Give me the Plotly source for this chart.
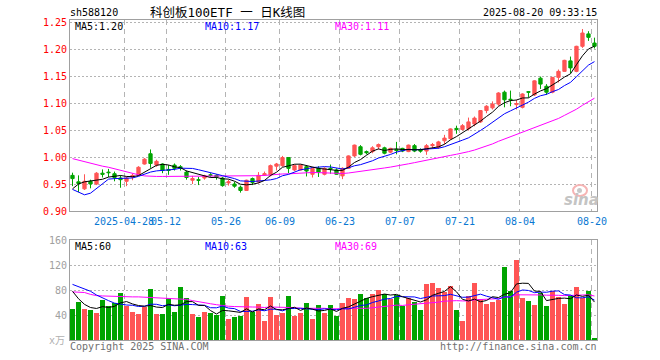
import plotly.graph_objects as go
import pandas as pd

# ---------------- data ----------------
dates = ["04-15","04-16","04-17","04-18","04-21","04-22","04-23","04-24","04-25","04-28",
         "04-29","04-30","05-06","05-07","05-08","05-09","05-12","05-13","05-14","05-15",
         "05-16","05-19","05-20","05-21","05-22","05-23","05-26","05-27","05-28","05-29",
         "05-30","06-03","06-04","06-05","06-06","06-09","06-10","06-11","06-12","06-13",
         "06-16","06-17","06-18","06-19","06-20","06-23","06-24","06-25","06-26","06-27",
         "06-30","07-01","07-02","07-03","07-04","07-07","07-08","07-09","07-10","07-11",
         "07-14","07-15","07-16","07-17","07-18","07-21","07-22","07-23","07-24","07-25",
         "07-28","07-29","07-30","07-31","08-01","08-04","08-05","08-06","08-07","08-08",
         "08-11","08-12","08-13","08-14","08-15","08-18","08-19","08-20"]

open_ = [0.966,0.954,0.941,0.955,0.950,0.970,0.972,0.969,0.961,0.955,
         0.963,0.967,0.987,1.006,0.985,0.987,0.977,0.985,0.982,0.972,
         0.957,0.958,0.961,0.967,0.966,0.961,0.952,0.950,0.944,0.938,
         0.960,0.954,0.967,0.967,0.983,0.984,0.999,0.976,0.976,0.982,
         0.968,0.979,0.968,0.979,0.976,0.965,0.979,1.002,1.019,1.010,
         1.010,1.019,1.017,1.009,1.014,1.016,1.010,1.021,1.013,1.011,
         1.021,1.018,1.030,1.034,1.053,1.051,1.0525,1.061,1.065,1.086,
         1.091,1.098,1.120,1.107,1.097,1.092,1.121,1.115,1.146,1.131,
         1.120,1.1475,1.1586,1.178,1.1586,1.205,1.228,1.211]
high = [0.971,0.966,0.968,0.958,0.972,0.977,0.978,0.973,0.966,0.964,
        0.969,0.983,0.998,1.014,0.995,0.988,0.985,0.988,0.985,0.975,
        0.965,0.963,0.967,0.970,0.968,0.963,0.958,0.954,0.947,0.958,
        0.962,0.972,0.973,0.986,0.989,1.002,0.999,0.986,0.986,0.985,
        0.979,0.983,0.981,0.986,0.979,0.981,1.003,1.023,1.022,1.012,
        1.020,1.025,1.019,1.017,1.028,1.017,1.023,1.024,1.016,1.024,
        1.026,1.030,1.041,1.053,1.058,1.061,1.073,1.075,1.087,1.096,
        1.103,1.120,1.123,1.123,1.106,1.118,1.122,1.142,1.149,1.135,
        1.148,1.162,1.180,1.186,1.206,1.237,1.233,1.221]
low = [0.946,0.935,0.939,0.942,0.948,0.962,0.963,0.955,0.943,0.946,
       0.957,0.965,0.986,0.980,0.982,0.970,0.967,0.975,0.975,0.958,
       0.950,0.948,0.958,0.962,0.958,0.945,0.947,0.943,0.934,0.937,
       0.948,0.951,0.965,0.964,0.975,0.982,0.970,0.974,0.975,0.964,
       0.962,0.963,0.966,0.969,0.967,0.959,0.978,1.000,1.003,1.005,
       1.007,1.014,1.005,1.007,1.005,1.009,1.009,1.009,1.008,1.004,
       1.017,1.015,1.0235,1.032,1.043,1.049,1.049,1.057,1.063,1.081,
       1.088,1.095,1.092,1.094,1.088,1.090,1.110,1.113,1.126,1.115,
       1.118,1.138,1.158,1.155,1.157,1.202,1.215,1.201]
close = [0.960,0.951,0.955,0.950,0.970,0.968,0.971,0.962,0.958,0.961,
         0.966,0.981,0.996,0.988,0.992,0.975,0.975,0.979,0.980,0.962,
         0.960,0.957,0.965,0.966,0.963,0.947,0.954,0.946,0.938,0.957,
         0.953,0.966,0.969,0.984,0.987,0.999,0.979,0.984,0.985,0.974,
         0.979,0.972,0.979,0.978,0.968,0.979,1.002,1.022,1.005,1.008,
         1.017,1.023,1.007,1.016,1.012,1.011,1.022,1.011,1.011,1.021,
         1.023,1.028,1.035,1.052,1.051,1.058,1.065,1.072,1.086,1.094,
         1.098,1.1185,1.106,1.106,1.099,1.1167,1.120,1.141,1.135,1.120,
         1.1475,1.1586,1.179,1.165,1.205,1.2296,1.2216,1.205]
volume = [49.6,61.3,49.6,48.0,43.7,64.5,54.4,58.7,75.7,54.4,
          45.3,41.6,53.3,81.6,41.6,41.6,67.7,45.3,84.8,67.7,
          41.6,37.3,45.3,43.7,40.0,70.4,34.1,37.3,38.9,68.8,
          45.3,58.1,30.9,68.8,40.0,43.7,70.4,38.9,43.7,59.2,
          34.1,56.0,43.7,56.0,38.4,59.7,67.2,65.6,73.6,66.7,
          73.6,80.0,73.6,65.6,72.0,54.9,67.7,61.3,48.0,89.6,
          91.2,83.2,76.8,86.4,48.0,30.9,70.4,91.2,65.6,57.6,
          61.3,64.0,117.3,77.9,128.0,67.2,62.4,56.0,75.2,54.4,
          78.4,68.8,58.1,70.4,84.8,66.7,78.4,3.2]

ma5_lead = [0.941, 0.950, 0.954, 0.956]
ma10_lead = [0.940, 0.935, 0.930, 0.933, 0.942, 0.951, 0.959, 0.960, 0.960]
ma30_lead = [0.997, 0.994, 0.991, 0.988, 0.986, 0.983, 0.981, 0.978, 0.975, 0.973,
             0.970, 0.967, 0.965, 0.964, 0.964, 0.964, 0.964, 0.964, 0.964, 0.964,
             0.964, 0.964, 0.964, 0.964, 0.964, 0.964, 0.964, 0.965, 0.965]
vma5_lead = [78, 66, 57, 52]
vma10_lead = [89, 85, 82, 78, 72, 67, 63, 59, 57]
vma30_lead = [77, 77, 76, 73, 71, 70.5, 70, 70, 70, 69.5, 69, 69, 68.5, 68, 68, 67.5,
              67, 66.5, 66, 65, 63, 61, 59.5, 58, 56.5, 55, 54, 53.5, 53]

tick_dates = ["04-28", "05-12", "05-26", "06-09", "06-23", "07-07", "07-21", "08-04", "08-20"]
tick_texts = ["2025-04-28", "05-12", "05-26", "06-09", "06-23", "07-07", "07-21", "08-04", "08-20"]
price_ticks = [0.90, 0.95, 1.00, 1.05, 1.10, 1.15, 1.20, 1.25]
vol_ticks = [40, 80, 120, 160]

code = "sh588120"
title = "科创板100ETF 一 日K线图"
stamp = "2025-08-20 09:33:15"
ma_labels = ["MA5:1.20", "MA10:1.17", "MA30:1.11"]
vma_labels = ["MA5:60", "MA10:63", "MA30:69"]

# ---------------- derived ----------------
n = len(dates)
xi = list(range(n))

def ma(vals, w, lead):
    s = pd.Series(vals).rolling(w).mean().tolist()
    return lead + s[len(lead):]

ma5 = ma(close, 5, ma5_lead)
ma10 = ma(close, 10, ma10_lead)
ma30 = ma(close, 30, ma30_lead)
vma5 = ma(volume, 5, vma5_lead)
vma10 = ma(volume, 10, vma10_lead)
vma30 = ma(volume, 30, vma30_lead)

RED = "#ff5454"
GREEN = "#00a400"
GRID = "#b4b4b4"
FRAME = "#a0a0a0"
MONO = "DejaVu Sans Mono, monospace"

OFF = 0.417  # gridline sits at the left edge of the candle slot
tickpos = [dates.index(d) - OFF for d in tick_dates]

fig = go.Figure()
fig.add_trace(go.Candlestick(
    x=xi, open=open_, high=high, low=low, close=close,
    increasing=dict(line=dict(color=RED, width=1), fillcolor=RED),
    decreasing=dict(line=dict(color=GREEN, width=1), fillcolor=GREEN),
    whiskerwidth=0, showlegend=False, hoverinfo="skip", xaxis="x", yaxis="y"))
for vals, col in [(ma30, "#ff00ff"), (ma10, "#0000ff"), (ma5, "#000000")]:
    fig.add_trace(go.Scatter(x=xi, y=vals, mode="lines", line=dict(color=col, width=1),
                             showlegend=False, hoverinfo="skip", xaxis="x", yaxis="y"))

vcols = [RED if c >= o else GREEN for o, c in zip(open_, close)]
fig.add_trace(go.Bar(x=xi, y=volume, marker=dict(color=vcols, line=dict(width=0)),
                     width=0.83, showlegend=False, hoverinfo="skip", xaxis="x2", yaxis="y2"))
for vals, col in [(vma30, "#ff00ff"), (vma10, "#0000ff"), (vma5, "#000000")]:
    fig.add_trace(go.Scatter(x=xi, y=vals, mode="lines", line=dict(color=col, width=1),
                             showlegend=False, hoverinfo="skip", xaxis="x2", yaxis="y2"))

xr = [-OFF, n - 1 + 0.42]
axis_common = dict(showline=True, mirror=True, linecolor=FRAME, linewidth=1,
                   zeroline=False, ticks="", gridcolor=GRID, gridwidth=1, automargin=False)

L, R, T, B = 70, 63, 20, 20
H, W = 360, 660
ph = H - T - B
pw = W - L - R
main_bottom = (340 - 211) / ph
vol_top = (340 - 240) / ph

fig.update_layout(
    width=W, height=H, margin=dict(l=L, r=R, t=T, b=B, pad=0, autoexpand=False),
    paper_bgcolor="white", plot_bgcolor="white",
    boxgap=0.22, bargap=0,
    xaxis=dict(domain=[0, 1], anchor="y", range=xr, tickvals=tickpos, ticktext=tick_texts,
               tickangle=0, ticklabelstandoff=1,
               tickfont=dict(family=MONO, size=10, color="#0a78d2"), griddash="5px,4px",
               rangeslider=dict(visible=False), showgrid=True, **axis_common),
    yaxis=dict(domain=[main_bottom, 1], anchor="x", range=[0.90, 0.90 + 191 / 540],
               tickvals=price_ticks, ticktext=["%.2f" % v for v in price_ticks],
               tickfont=dict(family=MONO, size=10, color="#ff0000"), griddash="2px,2px",
               showgrid=True, **axis_common),
    xaxis2=dict(domain=[0, 1], anchor="y2", range=xr, tickvals=tickpos, showticklabels=False,
                griddash="5px,4px", showgrid=True, **axis_common),
    yaxis2=dict(domain=[0, vol_top], anchor="x2", range=[0, 160], tickvals=vol_ticks,
                ticktext=[str(v) for v in vol_ticks],
                tickfont=dict(family=MONO, size=10, color="#a0a0a0"), griddash="2px,2px",
                showgrid=True, **axis_common),
)

def px(x):
    return (x - L) / pw

def py(y):
    return (H - B - y) / ph

ann = []
def text(s, x, y, color, size=10, anchor="left", family=MONO):
    ann.append(dict(text=s, x=px(x), y=py(y), xref="paper", yref="paper", showarrow=False,
                    xanchor=anchor, yanchor="middle", font=dict(family=family, size=size, color=color),
                    borderpad=0))

text(code, 69, 13, "#000000")
text(title, 149, 13, "#000000", size=12.5, family="DejaVu Sans Mono, Noto Sans CJK SC")
text(stamp, 598, 13, "#000000", anchor="right")
for s, x, c in zip(ma_labels, [74, 204, 334], ["#000000", "#0000ff", "#ff00ff"]):
    text(s, x, 26.5, c)
for s, x, c in zip(vma_labels, [74, 204, 334], ["#000000", "#0000ff", "#ff00ff"]):
    text(s, x, 246, c)
text("Copyright 2025 SINA.COM", 69, 346.5, "#707070")
text("http://finance.sina.com.cn", 598, 346.5, "#707070", anchor="right")
text("x万", 66, 340, "#b0b0b0", size=10, anchor="right", family="DejaVu Sans Mono, Noto Sans CJK SC")
ann.append(dict(text="<b><i>sina</i></b>", x=px(581), y=py(200), xref="paper", yref="paper",
                showarrow=False, xanchor="center", yanchor="middle",
                font=dict(family="DejaVu Sans", size=15, color="#c4c4c4")))
fig.update_layout(annotations=ann)

fig.add_shape(type="circle", xref="paper", yref="paper",
              x0=px(573), x1=px(587), y0=py(196), y1=py(185),
              line=dict(color="#f6b4b4", width=2), fillcolor="rgba(0,0,0,0)")
fig.add_shape(type="circle", xref="paper", yref="paper",
              x0=px(577), x1=px(582), y0=py(193), y1=py(188),
              line=dict(width=0), fillcolor="#c8c8c8")

fig.write_html("out.html", post_script="document.body.style.margin='0';",
               config={"displayModeBar": False})
